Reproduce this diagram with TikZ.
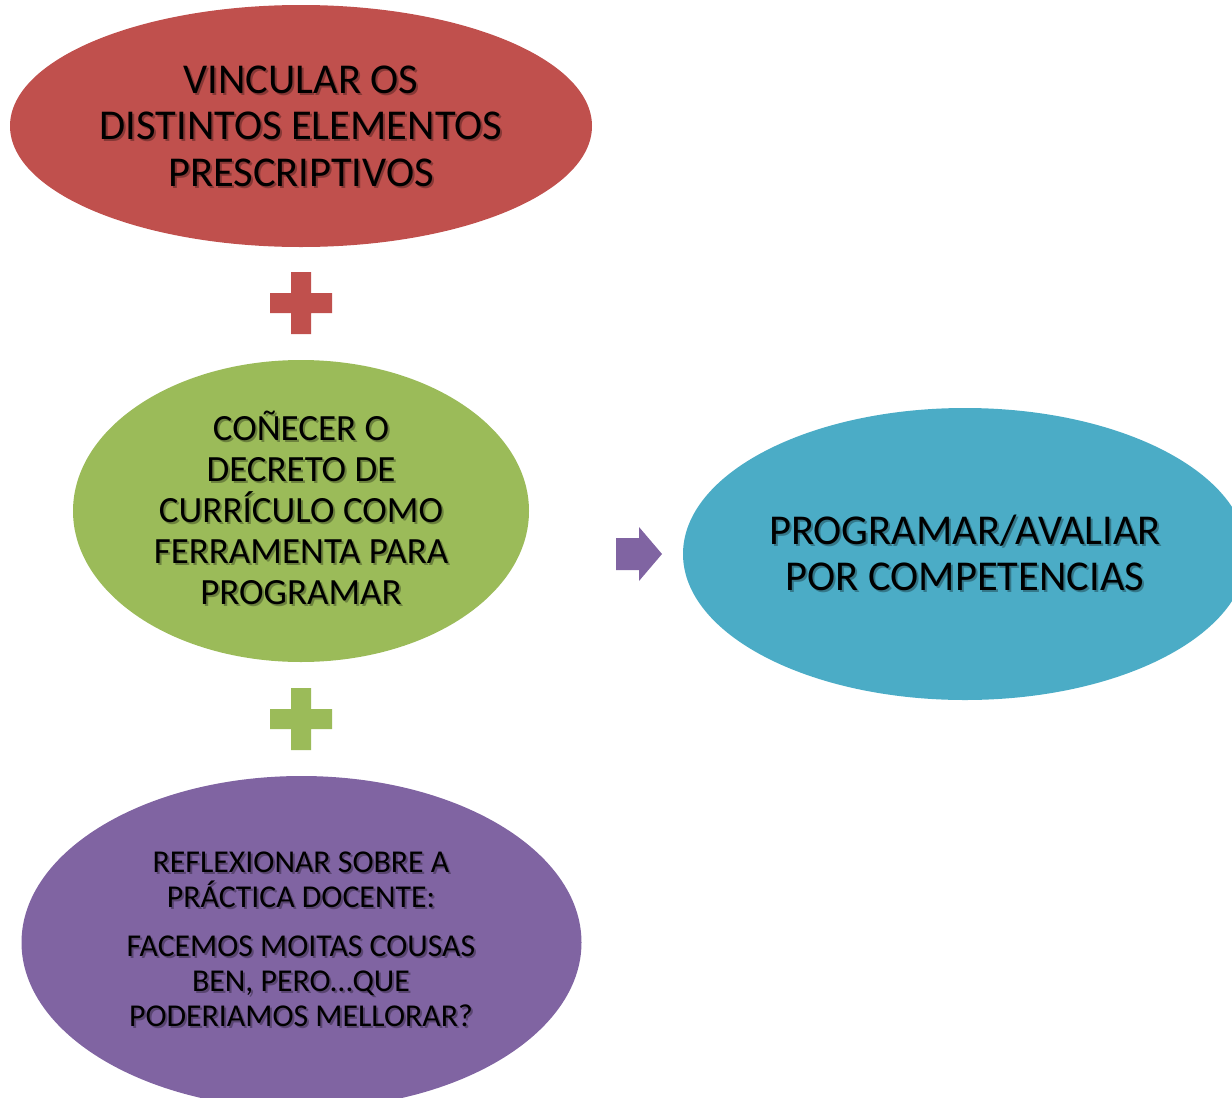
\documentclass[tikz,border=0pt]{standalone}
\usepackage{fontspec}
\setmainfont{Carlito}
\usetikzlibrary{shapes.geometric}
\definecolor{cred}{HTML}{C0504D}
\definecolor{cgreen}{HTML}{9BBB59}
\definecolor{cpurple}{HTML}{8064A2}
\definecolor{cblue}{HTML}{4BACC6}
\tikzset{
  blob/.style={ellipse, inner sep=0pt, draw=none, fill=#1},
  shadowtxt/.style={align=center, text=black, opacity=0.3, inner sep=0pt},
  maintxt/.style={align=center, text=black, inner sep=0pt},
}
\newcommand{\shtext}[4]{%
  \node[shadowtxt, font=#2] at ([shift={(2,2)}]#1) {#3};
  \node[maintxt, font=#2] (#4) at (#1) {#3};
}
\begin{document}
\begin{tikzpicture}[x=1pt,y=-1pt]
\useasboundingbox (0,0) rectangle (1232,1098);
\clip (0,0) rectangle (1232,1098);
% ellipses
\node[blob=cred, minimum width=582, minimum height=242] (red) at (301,126) {};
\node[blob=cgreen, minimum width=456, minimum height=302] (green) at (301,511) {};
\node[blob=cpurple, minimum width=560, minimum height=333] (purple) at (301.5,942.5) {};
\node[blob=cblue, minimum width=564, minimum height=292] (blue) at (965,554) {};
% plus signs
\coordinate (p1) at (301,303);
\coordinate (p2) at (301,719);
\fill[cred] ([shift={(-31,-10)}]p1) rectangle ([shift={(31,10)}]p1)
            ([shift={(-10,-31)}]p1) rectangle ([shift={(10,31)}]p1);
\fill[cgreen] ([shift={(-31,-10)}]p2) rectangle ([shift={(31,10)}]p2)
              ([shift={(-10,-31)}]p2) rectangle ([shift={(10,31)}]p2);
% arrow
\coordinate (ar) at (616,554);
\fill[cpurple] ([shift={(0,-16)}]ar) -- ([shift={(23,-16)}]ar) -- ([shift={(23,-27)}]ar)
   -- ([shift={(46,0)}]ar) -- ([shift={(23,27)}]ar) -- ([shift={(23,16)}]ar)
   -- ([shift={(0,16)}]ar) -- cycle;
% texts
\coordinate (cr) at (301,126);
\coordinate (cg) at (301,508);
\coordinate (cb) at (965,553);
\coordinate (cp) at (301,939);
\shtext{cr}{\fontsize{42.5}{46.5}\selectfont}{VINCULAR OS\\DISTINTOS ELEMENTOS\\PRESCRIPTIVOS}{tred}
\shtext{cg}{\fontsize{37}{41}\selectfont}{COÑECER O\\DECRETO DE\\CURRÍCULO COMO\\FERRAMENTA PARA\\PROGRAMAR}{tgreen}
\shtext{cb}{\fontsize{42.5}{46}\selectfont}{PROGRAMAR/AVALIAR\\POR COMPETENCIAS}{tblue}
\shtext{cp}{\fontsize{31.8}{35}\selectfont}{REFLEXIONAR SOBRE A\\PRÁCTICA DOCENTE:\\[14pt]FACEMOS MOITAS COUSAS\\BEN, PERO…QUE\\PODERIAMOS MELLORAR?}{tpurple}
\end{tikzpicture}
\end{document}
